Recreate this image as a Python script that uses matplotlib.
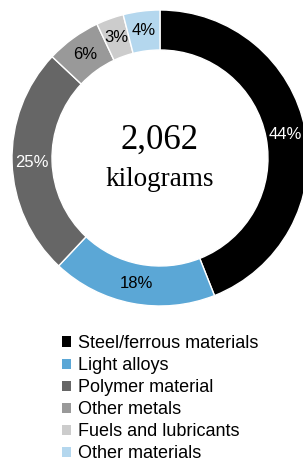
import matplotlib
matplotlib.use("Agg")
import matplotlib.pyplot as plt
from matplotlib.patches import Patch
from matplotlib import font_manager

categories = ["Steel/ferrous materials", "Light alloys", "Polymer material",
              "Other metals", "Fuels and lubricants", "Other materials"]
values = [44, 18, 25, 6, 3, 4]
colors = ["#000000", "#5ba7d6", "#666666", "#999999", "#cccccc", "#b4d7ee"]
label_colors = ["white", "black", "white", "black", "black", "black"]
total_value = "2,062"
total_unit = "kilograms"

sans = "Liberation Sans"

W, H = 303, 462
fig = plt.figure(figsize=(W / 100, H / 100), dpi=100)
ax = fig.add_axes([0, 0, 1, 1])
cx, cy, R = 160, -158, 148
wedges, texts = ax.pie(values, colors=colors, startangle=90, counterclock=False,
                       center=(cx, cy), radius=R,
                       labels=[f"{v}%" for v in values], labeldistance=0.865,
                       wedgeprops=dict(width=40, edgecolor="white", linewidth=1),
                       textprops=dict(fontsize=12, family=sans))
for t, c in zip(texts, label_colors):
    t.set_color(c)
    t.set_ha("center")
    t.set_va("center")
ax.set_xlim(0, W)
ax.set_ylim(-H, 0)
ax.set_aspect("equal")
ax.axis("off")

ax.text(cx, -140.5, total_value, ha="center", va="center", fontsize=25,
        family="Liberation Serif")
ax.text(cx, -180, total_unit, ha="center", va="center", fontsize=19.5,
        family="Liberation Serif")

handles = [Patch(facecolor=c, edgecolor="none") for c in colors]
leg = ax.legend(handles, categories, loc="upper left",
                bbox_to_anchor=(62 / W, 1 - 335 / H), frameon=False,
                prop=dict(family=sans, size=13), handlelength=0.5,
                handleheight=0.5, handletextpad=0.4, labelspacing=0.28,
                borderaxespad=0, borderpad=0)

fig.savefig("out.png", dpi=100)
